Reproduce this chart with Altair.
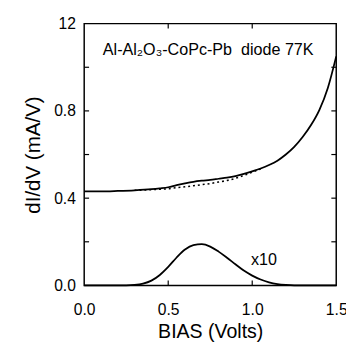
import altair as alt
import pandas as pd

# main dI/dV trace (solid)
main_bias = [0.0, 0.1, 0.2, 0.3, 0.4, 0.45, 0.5, 0.55, 0.6, 0.65, 0.7, 0.75, 0.8, 0.85,
             0.9, 0.95, 1.0, 1.05, 1.1, 1.15, 1.2, 1.25, 1.3, 1.35, 1.4, 1.45, 1.5]
main_didv = [0.431, 0.431, 0.433, 0.436, 0.441, 0.445, 0.450, 0.460, 0.468, 0.475, 0.480,
             0.484, 0.489, 0.494, 0.501, 0.511, 0.523, 0.536, 0.552, 0.572, 0.600, 0.635,
             0.680, 0.735, 0.805, 0.905, 1.050]

# background (dotted)
bg_bias = [0.3, 0.35, 0.4, 0.45, 0.5, 0.55, 0.6, 0.65, 0.7, 0.75, 0.8, 0.85, 0.9, 0.95, 1.0, 1.05]
bg_didv = [0.436, 0.437, 0.439, 0.441, 0.443, 0.448, 0.452, 0.457, 0.462, 0.467, 0.474,
           0.481, 0.491, 0.504, 0.519, 0.534]

# difference x10 (peak)
peak_bias = [0.0, 0.25, 0.3, 0.35, 0.4, 0.45, 0.5, 0.55, 0.6, 0.65, 0.7, 0.75, 0.8, 0.85,
             0.9, 0.95, 1.0, 1.05, 1.1, 1.15, 1.2, 1.25, 1.5]
peak_x10 = [0.0, 0.0, 0.002, 0.008, 0.022, 0.048, 0.085, 0.128, 0.165, 0.185, 0.189, 0.178,
            0.155, 0.127, 0.097, 0.068, 0.045, 0.027, 0.014, 0.006, 0.002, 0.0, 0.0]

x_ticks = [0.0, 0.5, 1.0, 1.5]
x_minor = [0.5, 1.0]
y_ticks = [0.0, 0.4, 0.8, 1.2]
y_minor = [0.2, 0.4, 0.6, 0.8, 1.0]

W, H = 258, 268
TL = 5

main_df = pd.DataFrame({"bias": main_bias, "v": main_didv})
bg_df = pd.DataFrame({"bias": bg_bias, "v": bg_didv})
pk_df = pd.DataFrame({"bias": peak_bias, "v": peak_x10})

xs = alt.Scale(domain=[0, 1.5], nice=False, zero=False)
ys = alt.Scale(domain=[0, 1.2], nice=False)

FONT = "Liberation Sans"

xaxis = alt.Axis(values=x_ticks, format=".1f", grid=False, ticks=False, domain=False,
                 labelFontSize=16, labelPadding=17, labelColor="black", labelFont=FONT,
                 title="BIAS (Volts)", titleFontSize=20, titleFont=FONT, titleFontWeight="normal",
                 titleColor="black", titlePadding=4, labelFlush=False)
yaxis = alt.Axis(values=y_ticks, grid=False, ticks=False, domain=False,
                 labelExpr="datum.value == 1.2 ? '12' : format(datum.value, '.1f')",
                 labelFontSize=16, labelPadding=9, labelColor="black", labelFont=FONT,
                 title="dI/dV (mA/V)", titleFontSize=21, titleFont=FONT, titleFontWeight="normal",
                 titleColor="black", titlePadding=10, labelFlush=False)

main = alt.Chart(main_df).mark_line(color="black", strokeWidth=1.8, interpolate="monotone").encode(
    x=alt.X("bias:Q", scale=xs, axis=xaxis),
    y=alt.Y("v:Q", scale=ys, axis=yaxis),
)
bg = alt.Chart(bg_df).mark_line(color="black", strokeWidth=1.6, strokeDash=[2, 3],
                                interpolate="monotone").encode(
    x=alt.X("bias:Q", scale=xs), y=alt.Y("v:Q", scale=ys))
pk = alt.Chart(pk_df).mark_line(color="black", strokeWidth=1.8, interpolate="monotone").encode(
    x=alt.X("bias:Q", scale=xs), y=alt.Y("v:Q", scale=ys))

ymin_df = pd.DataFrame({"y": y_minor})
xmin_df = pd.DataFrame({"x": x_minor})
tick_left = alt.Chart(ymin_df).mark_rule(color="black", strokeWidth=1.2).encode(
    y=alt.Y("y:Q", scale=ys), x=alt.value(0), x2=alt.value(TL))
tick_right = alt.Chart(ymin_df).mark_rule(color="black", strokeWidth=1.2).encode(
    y=alt.Y("y:Q", scale=ys), x=alt.value(W - TL), x2=alt.value(W))
tick_top = alt.Chart(xmin_df).mark_rule(color="black", strokeWidth=1.2).encode(
    x=alt.X("x:Q", scale=xs), y=alt.value(0), y2=alt.value(TL))
tick_bot = alt.Chart(xmin_df).mark_rule(color="black", strokeWidth=1.2).encode(
    x=alt.X("x:Q", scale=xs), y=alt.value(H - TL), y2=alt.value(H))

ann_df = pd.DataFrame({"x": [0.738, 1.07], "y": [1.054, 0.095],
                       "t": ["Al-Al\u2082O\u2083-CoPc-Pb\u00a0\u00a0diode 77K", "x10"]})
ann = alt.Chart(ann_df).mark_text(font=FONT, fontSize=16.5, color="black", align="center",
                                  baseline="alphabetic").encode(
    x=alt.X("x:Q", scale=xs), y=alt.Y("y:Q", scale=ys), text="t:N")

chart = alt.layer(main, bg, pk, tick_left, tick_right, tick_top, tick_bot, ann).properties(
    width=W, height=H,
    autosize=alt.AutoSizeParams(type="none"),
    padding={"left": 78, "top": 12, "right": 10, "bottom": 58},
    background="white",
).configure_view(stroke="black", strokeWidth=1.5)

chart.save("out.html", embed_options={"renderer": "svg", "actions": False})
